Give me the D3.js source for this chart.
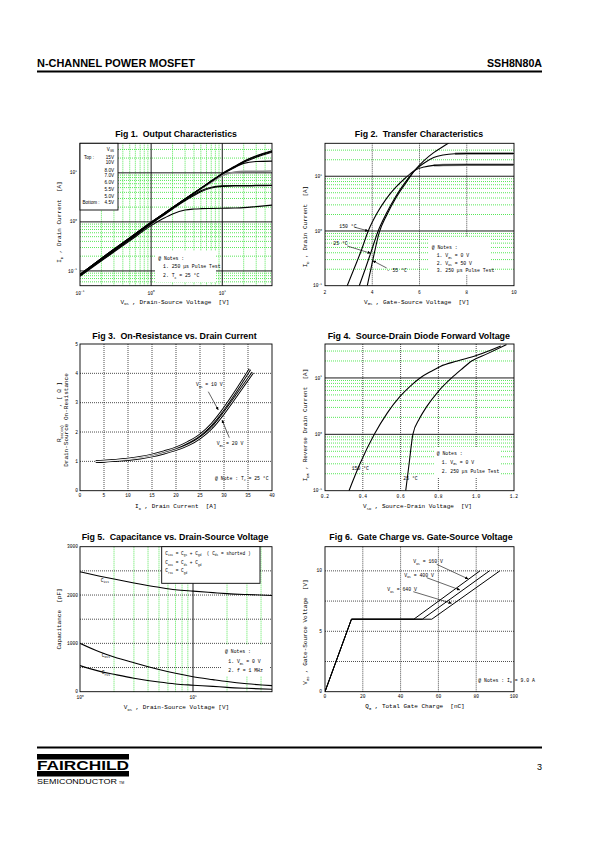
<!DOCTYPE html>
<html><head><meta charset="utf-8">
<script src="https://cdn.jsdelivr.net/npm/d3@7"></script>
<style>body{margin:0;background:#fff}svg{display:block}</style>
</head><body>
<script>
// ================= DATA =================
// Fig 1 Output characteristics (VDS [V] vs ID [A])
const fig1Vds = [0.1,0.2,0.5,1,1.5,2,3,4,5,7,10,15,20,30,50];
const fig1Legend = ["15V","10V","8.0V","7.0V","6.0V","5.5V","5.0V","4.5V"];
const fig1Id15 = [0.085,0.18,0.47,0.98,1.47,1.96,2.93,3.9,4.85,6.8,9.7,13.6,17.2,22.2,28.2];
const fig1Id10 = [0.085,0.18,0.47,0.98,1.47,1.96,2.93,3.9,4.85,6.8,9.6,13.4,16.9,21.6,27.4];
const fig1Id80 = [0.085,0.18,0.47,0.97,1.46,1.95,2.92,3.88,4.82,6.75,9.5,13.1,16.4,20.8,26.4];
const fig1Id70 = [0.084,0.175,0.46,0.96,1.45,1.94,2.9,3.86,4.8,6.7,9.4,12.9,15.6,17.0,17.3];
const fig1Id60 = [0.083,0.17,0.45,0.95,1.43,1.92,2.87,3.8,4.7,6.4,8.8,10.4,10.8,10.8,10.9];
const fig1Id55 = [0.082,0.17,0.44,0.93,1.4,1.88,2.8,3.6,4.3,5.1,5.45,5.5,5.5,5.55,5.6];
const fig1Id50 = [0.081,0.165,0.43,0.91,1.37,1.83,2.7,3.45,4.1,4.9,5.3,5.4,5.4,5.45,5.5];
const fig1Id45 = [0.078,0.16,0.41,0.84,1.18,1.45,1.75,1.83,1.86,1.88,1.9,1.92,1.95,2.05,2.2];
const fig1XTicks = [0.1,1,10];
const fig1YTicks = [0.1,1,10];

// Fig 2 Transfer characteristics (VGS [V] vs ID [A])
const fig2Vgs150 = [2.94,3.2,3.5,3.83,4.2,4.6,5.0,5.4,5.8,6.2,6.6,7.0,8.0,10];
const fig2Id150  = [0.1,0.19,0.4,1.0,2.1,3.9,6.3,9.3,12.8,14.8,15.8,16.1,16.2,16.2];
const fig2Vgs25  = [3.45,3.7,3.93,4.25,4.6,5.0,5.4,5.8,6.2,6.6,7.0,7.5,8.0,10];
const fig2Id25   = [0.1,0.2,0.39,1.0,2.1,4.3,7.8,12.8,17.5,22,24.5,25.8,26,26];
const fig2VgsM55 = [3.79,4.02,4.3,4.6,5.0,5.4,5.8,6.2,6.6,7.0,7.25];
const fig2IdM55  = [0.1,0.29,0.95,1.9,4.0,7.3,12.8,19.5,27,35,41];
const fig2XTicks = [2,4,6,8,10];
const fig2YTicks = [0.1,1,10];

// Fig 3 On-resistance vs drain current (ID [A] vs RDS(on) [ohm])
const fig3Id10 = [3.3,5,7.5,10,12.5,15,17.5,20,22.5,25,27.5,30,32.5,35.4];
const fig3R10  = [1.0,1.01,1.04,1.08,1.14,1.22,1.33,1.46,1.65,1.9,2.28,2.8,3.4,4.14];
const fig3Id20 = [3.3,5,7.5,10,12.5,15,17.5,20,22.5,25,27.5,30,32.5,36];
const fig3R20  = [0.99,1.0,1.03,1.06,1.11,1.18,1.28,1.4,1.56,1.8,2.15,2.65,3.22,4.03];
const fig3XTicks = [0,5,10,15,20,25,30,35,40];
const fig3YTicks = [0,1,2,3,4,5];

// Fig 4 Source-drain diode forward voltage (VSD [V] vs IDR [A])
const fig4Vsd150 = [0.327,0.385,0.461,0.53,0.597,0.65,0.703,0.76,0.81,0.9,1.0,1.13];
const fig4Idr150 = [0.1,0.3,1.0,2.4,4.7,7.1,10,13,16,20,25,37];
const fig4Vsd25  = [0.627,0.645,0.665,0.7,0.738,0.8,0.87,0.92,0.976,1.06,1.16];
const fig4Idr25  = [0.1,0.3,1.0,1.9,3.1,5.8,10,14,20,27,39];
const fig4XTicks = [0.2,0.4,0.6,0.8,1.0,1.2];
const fig4YTicks = [0.1,1,10];

// Fig 5 Capacitance vs VDS
const fig5Vds  = [1,1.5,2,3,5,7,10,15,20,30,50];
const fig5Ciss = [2480,2390,2330,2250,2160,2110,2080,2050,2030,2010,1990];
const fig5Coss = [1000,820,720,600,460,380,310,250,210,165,125];
const fig5Crss = [540,420,360,280,200,160,135,110,90,70,50];
const fig5XTicks = [1,10];
const fig5YTicks = [0,1000,2000,3000];

// Fig 6 Gate charge (QG [nC] vs VGS [V])
const fig6Q160 = [0,14,47,82];
const fig6Q400 = [0,14,51.5,87];
const fig6Q640 = [0,14,56.5,92.5];
const fig6Vgs  = [0,6,6,10];
const fig6XTicks = [0,20,40,60,80,100];
const fig6YTicks = [0,5,10];

// ================= DRAWING =================
const MONO = "'Liberation Mono','DejaVu Sans Mono',monospace";
const SANS = "'Liberation Sans',Arial,'DejaVu Sans',sans-serif";
const GREEN = "#2fe22f";
const svg = d3.select("body").append("svg").attr("width",595).attr("height",842);
const defs = svg.append("defs");
defs.append("marker").attr("id","arr").attr("viewBox","0 0 10 10").attr("refX",10).attr("refY",5)
  .attr("markerWidth",3.2).attr("markerHeight",3.2).attr("markerUnits","userSpaceOnUse").attr("orient","auto")
  .append("path").attr("d","M0,0L10,5L0,10z").attr("fill","#000");

function rich(t,str,fs){
  const parts = str.split(/(_\{[^}]*\}|\^\{[^}]*\})/);
  let cur = 0;
  parts.forEach(p=>{
    if(p==="") return;
    let target=0,size=fs,s=p;
    if(p.startsWith("_{")){target=fs*0.32;size=fs*0.62;s=p.slice(2,-1);}
    else if(p.startsWith("^{")){target=-fs*0.45;size=fs*0.62;s=p.slice(2,-1);}
    t.append("tspan").attr("dy",target-cur).attr("font-size",size).text(s);
    cur=target;
  });
}
function txt(g,x,y,str,o={}){
  const fs=o.fs||5;
  const t=g.append("text").attr("font-family",o.ff||MONO).attr("font-size",fs)
    .attr("text-anchor",o.anchor||"start").attr("fill","#000").style("white-space","pre");
  if(o.rot){t.attr("transform",`translate(${x},${y}) rotate(-90)`);} else {t.attr("x",x).attr("y",y);}
  if(o.bold) t.attr("font-weight","bold");
  if(o.len) t.attr("textLength",o.len).attr("lengthAdjust","spacingAndGlyphs");
  rich(t,str,fs);
  return t;
}
function logMinors(lo,hi){const out=[];for(let k=Math.floor(Math.log10(lo))-1;k<=Math.ceil(Math.log10(hi));k++){for(let m=2;m<=9;m++){const v=m*Math.pow(10,k);if(v>lo*1.001&&v<hi*0.999)out.push(v);}}return out;}
function logMajors(lo,hi){const out=[];for(let k=Math.floor(Math.log10(lo))-1;k<=Math.ceil(Math.log10(hi));k++){const v=Math.pow(10,k);if(v>lo*1.001&&v<hi*0.999)out.push(v);}return out;}
function styleLine(sel,kind){
  if(kind==="green") sel.attr("stroke",GREEN).attr("stroke-width",0.8).attr("stroke-dasharray","1,1");
  else if(kind==="dot") sel.attr("stroke","#000").attr("stroke-width",0.7).attr("stroke-dasharray","1,1");
  else sel.attr("stroke","#000").attr("stroke-width",0.9);
}
function vgrid(g,x,vals,b,kind){g.append("g").selectAll("line").data(vals).join("line")
  .attr("x1",d=>x(d)).attr("x2",d=>x(d)).attr("y1",b.y).attr("y2",b.y+b.h).call(styleLine,kind);}
function hgrid(g,y,vals,b,kind){g.append("g").selectAll("line").data(vals).join("line")
  .attr("y1",d=>y(d)).attr("y2",d=>y(d)).attr("x1",b.x).attr("x2",b.x+b.w).call(styleLine,kind);}
let clipN=0;
function clip(b){const id="c"+(clipN++);defs.append("clipPath").attr("id",id).append("rect").attr("x",b.x).attr("y",b.y).attr("width",b.w).attr("height",b.h);return `url(#${id})`;}
function frame(g,b){g.append("rect").attr("x",b.x).attr("y",b.y).attr("width",b.w).attr("height",b.h).attr("fill","none").attr("stroke","#000").attr("stroke-width",0.9);}
function curve(g,x,y,xs,ys,o={}){
  const pts=xs.map((v,i)=>[v,ys[i]]);
  return g.append("path").datum(pts).attr("fill","none").attr("stroke",o.color||"#000")
    .attr("stroke-width",o.w||1.1).attr("stroke-linejoin","round")
    .attr("d",d3.line().x(d=>x(d[0])).y(d=>y(d[1])).curve(o.linear?d3.curveLinear:d3.curveMonotoneX));
}
function whiteRect(g,x,y,w,h,border){g.append("rect").attr("x",x).attr("y",y).attr("width",w).attr("height",h).attr("fill","#fff").attr("stroke",border?"#000":"none").attr("stroke-width",0.9);}
function arrow(g,x1,y1,x2,y2){g.append("line").attr("x1",x1).attr("y1",y1).attr("x2",x2).attr("y2",y2).attr("stroke","#000").attr("stroke-width",0.6).attr("marker-end","url(#arr)");}
function pow10(v){const e=Math.round(Math.log10(v));return "10^{"+(e<0?"-"+(-e):e)+"}";}

// ---------- Header / footer ----------
txt(svg,37,66.5,"N-CHANNEL POWER MOSFET",{ff:SANS,fs:10.5,bold:true,len:158});
txt(svg,542,66.5,"SSH8N80A",{ff:SANS,fs:10.5,bold:true,anchor:"end",len:55});
svg.append("rect").attr("x",37).attr("y",70.5).attr("width",505).attr("height",2).attr("fill","#000");
svg.append("rect").attr("x",37).attr("y",746.5).attr("width",505).attr("height",2).attr("fill","#000");
svg.append("rect").attr("x",37).attr("y",754).attr("width",92).attr("height",5.5).attr("fill","#000");
txt(svg,37,769.5,"FAIRCHILD",{ff:SANS,fs:12,bold:true,len:92});
svg.append("rect").attr("x",37).attr("y",771).attr("width",92).attr("height",5.5).attr("fill","#000");
txt(svg,37,784,"SEMICONDUCTOR",{ff:SANS,fs:7,len:80});
txt(svg,119,784,"TM",{ff:SANS,fs:3.5});
txt(svg,542,770,"3",{ff:SANS,fs:9,anchor:"end"});

// ---------- Titles ----------
[["Fig 1.  Output Characteristics",176,136.5,121.7],
 ["Fig 2.  Transfer Characteristics",419,136.5,128.3],
 ["Fig 3.  On-Resistance vs. Drain Current",174.5,338.5,164.3],
 ["Fig 4.  Source-Drain Diode Forward Voltage",418.8,338.5,182.3],
 ["Fig 5.  Capacitance vs. Drain-Source Voltage",175,539.8,186.7],
 ["Fig 6.  Gate Charge vs. Gate-Source Voltage",421,539.8,183.3]].forEach(([s,x,y,l])=>
  txt(svg,x,y,s,{ff:SANS,fs:9,bold:true,anchor:"middle",len:l}));

const TFS=4.6, LFS=6, NFS=4.8;

// ---------- Fig 1 ----------
{
  const b={x:80,y:143.3,w:192,h:142.4};
  const g=svg.append("g");
  const x=d3.scaleLog().domain([0.1,50]).range([b.x,b.x+b.w]);
  const y=d3.scaleLog().domain([0.05,40]).range([b.y+b.h,b.y]);
  vgrid(g,x,logMinors(0.1,50),b,"green"); hgrid(g,y,logMinors(0.05,40),b,"green");
  vgrid(g,x,logMajors(0.1,50),b,"solid"); hgrid(g,y,logMajors(0.05,40),b,"solid");
  frame(g,b);
  const cg=g.append("g").attr("clip-path",clip(b));
  curve(cg,x,y,fig1Vds,fig1Id60,{color:"#888",w:1.6});
  [fig1Id45,fig1Id50,fig1Id55,fig1Id70,fig1Id80,fig1Id10,fig1Id15].forEach(a=>curve(cg,x,y,fig1Vds,a,{w:1.1}));
  // legend
  whiteRect(g,b.x,b.y,38,66.7,true);
  txt(g,114,151,"V_{GS}",{fs:4.6,ff:SANS,anchor:"end"});
  const ly=[159,164.4,172.4,176.9,184.4,191,197.7,203.7];
  fig1Legend.forEach((s,i)=>txt(g,114,ly[i],s,{fs:4.6,ff:SANS,anchor:"end"}));
  txt(g,84,159,"Top :",{fs:4.6,ff:SANS});
  txt(g,82.5,203.7,"Bottom :",{fs:4.6,ff:SANS});
  // notes
  whiteRect(g,155,251,61,31,false);
  txt(g,158.3,260,"@ Notes :",{fs:NFS});
  txt(g,163,268.4,"1. 250 μs Pulse Test",{fs:NFS});
  txt(g,163,277.4,"2. T_{C} = 25 °C",{fs:NFS});
  fig1XTicks.forEach(v=>txt(g,x(v),294.5,pow10(v),{fs:TFS,anchor:"middle"}));
  fig1YTicks.forEach(v=>txt(g,77,y(v)+1.6,pow10(v),{fs:TFS,anchor:"end"}));
  txt(g,175,303.5,"V_{DS} , Drain-Source Voltage  [V]",{fs:LFS,anchor:"middle"});
  txt(g,61.3,222,"I_{D} , Drain Current  [A]",{fs:LFS,anchor:"middle",rot:true});
}

// ---------- Fig 2 ----------
{
  const b={x:325,y:143.3,w:189,h:142.4};
  const g=svg.append("g");
  const x=d3.scaleLinear().domain([2,10]).range([b.x,b.x+b.w]);
  const y=d3.scaleLog().domain([0.1,40]).range([b.y+b.h,b.y]);
  hgrid(g,y,logMinors(0.1,40),b,"green");
  vgrid(g,x,[4,6,8],b,"dot");
  hgrid(g,y,logMajors(0.1,40),b,"solid");
  frame(g,b);
  const cg=g.append("g").attr("clip-path",clip(b));
  curve(cg,x,y,fig2Vgs150.slice(10),fig2Id150.slice(10),{color:"#8a8a8a",w:2.4});
  curve(cg,x,y,fig2Vgs25.slice(11),fig2Id25.slice(11),{color:"#8a8a8a",w:2.4});
  curve(cg,x,y,fig2Vgs150,fig2Id150);
  curve(cg,x,y,fig2Vgs25,fig2Id25);
  curve(cg,x,y,fig2VgsM55,fig2IdM55);
  whiteRect(g,429,237,62,38,false);
  txt(g,431.7,249.4,"@ Notes :",{fs:NFS});
  txt(g,436.7,257,"1. V_{GS} = 0 V",{fs:NFS});
  txt(g,436.7,264.5,"2. V_{DS} = 50 V",{fs:NFS});
  txt(g,436.7,272,"3. 250 μs Pulse Test",{fs:NFS});
  txt(g,339.3,227.6,"150 °C",{fs:NFS});
  arrow(g,355,227.3,368.3,231);
  txt(g,333.3,245,"25 °C",{fs:NFS});
  arrow(g,347.3,246,370.7,253.3);
  txt(g,386.7,272.4,"- 55 °C",{fs:NFS});
  arrow(g,386.7,268,372.7,260.7);
  fig2XTicks.forEach(v=>txt(g,x(v),293.5,String(v),{fs:TFS,anchor:"middle"}));
  fig2YTicks.forEach(v=>txt(g,322,y(v)+1.6,pow10(v),{fs:TFS,anchor:"end"}));
  txt(g,416.7,303.5,"V_{GS} , Gate-Source Voltage  [V]",{fs:LFS,anchor:"middle"});
  txt(g,307,226.5,"I_{D} , Drain Current  [A]",{fs:LFS,anchor:"middle",rot:true});
}

// ---------- Fig 3 ----------
{
  const b={x:80,y:344,w:192,h:146.7};
  const g=svg.append("g");
  const x=d3.scaleLinear().domain([0,40]).range([b.x,b.x+b.w]);
  const y=d3.scaleLinear().domain([0,5]).range([b.y+b.h,b.y]);
  vgrid(g,x,[5,10,15,20,25,30,35],b,"dot"); hgrid(g,y,[1,2,3,4],b,"dot");
  frame(g,b);
  const cg=g.append("g").attr("clip-path",clip(b));
  [[fig3Id10,fig3R10],[fig3Id20,fig3R20]].forEach(([a,r])=>{
    curve(cg,x,y,a,r,{w:2.6});
  });
  [[fig3Id10,fig3R10],[fig3Id20,fig3R20]].forEach(([a,r])=>{
    curve(cg,x,y,a,r,{w:0.9,color:"#fff"});
  });
  txt(g,196,386,"V_{GS} = 10 V",{fs:NFS});
  arrow(g,208.3,391.7,218.3,410);
  txt(g,216.7,445,"V_{GS} = 20 V",{fs:NFS});
  arrow(g,229.3,437.7,222,420);
  txt(g,215,479.7,"@ Note : T_{J} = 25 °C",{fs:NFS});
  fig3XTicks.forEach(v=>txt(g,x(v),497.4,String(v),{fs:TFS,anchor:"middle"}));
  fig3YTicks.forEach(v=>txt(g,78,y(v)+1.6,String(v),{fs:TFS,anchor:"end"}));
  txt(g,175.8,508.4,"I_{D} , Drain Current  [A]",{fs:LFS,anchor:"middle"});
  txt(g,61.3,412,"R_{DS(on)}     , [ Ω ]",{fs:LFS,anchor:"middle",rot:true});
  txt(g,68,420,"Drain-Source On-Resistance",{fs:LFS,anchor:"middle",rot:true});
}

// ---------- Fig 4 ----------
{
  const b={x:325,y:344,w:189,h:146.7};
  const g=svg.append("g");
  const x=d3.scaleLinear().domain([0.2,1.2]).range([b.x,b.x+b.w]);
  const y=d3.scaleLog().domain([0.1,40]).range([b.y+b.h,b.y]);
  hgrid(g,y,logMinors(0.1,40),b,"green");
  vgrid(g,x,[0.4,0.6,0.8,1.0],b,"dot");
  hgrid(g,y,logMajors(0.1,40),b,"solid");
  frame(g,b);
  const cg=g.append("g").attr("clip-path",clip(b));
  curve(cg,x,y,fig4Vsd150,fig4Idr150);
  curve(cg,x,y,fig4Vsd25,fig4Idr25);
  whiteRect(g,434,447,66,31,false);
  txt(g,436.7,455,"@ Notes :",{fs:NFS});
  txt(g,441.7,463.7,"1. V_{GS} = 0 V",{fs:NFS});
  txt(g,441.7,473.4,"2. 250 μs Pulse Test",{fs:NFS});
  txt(g,351.7,470,"150 °C",{fs:NFS});
  txt(g,403.3,480,"25 °C",{fs:NFS});
  fig4XTicks.forEach(v=>txt(g,x(v),498.4,v.toFixed(1),{fs:TFS,anchor:"middle"}));
  fig4YTicks.forEach(v=>txt(g,322,y(v)+1.6,pow10(v),{fs:TFS,anchor:"end"}));
  txt(g,417.5,508.4,"V_{SD} , Source-Drain Voltage  [V]",{fs:LFS,anchor:"middle"});
  txt(g,307,425,"I_{DR} , Reverse Drain Current  [A]",{fs:LFS,anchor:"middle",rot:true});
}

// ---------- Fig 5 ----------
{
  const b={x:80,y:546.7,w:192,h:145};
  const g=svg.append("g");
  const x=d3.scaleLog().domain([1,50]).range([b.x,b.x+b.w]);
  const y=d3.scaleLinear().domain([0,3000]).range([b.y+b.h,b.y]);
  vgrid(g,x,logMinors(1,50),b,"green");
  hgrid(g,y,[500,1000,1500,2000,2500],b,"dot");
  vgrid(g,x,logMajors(1,50),b,"solid");
  frame(g,b);
  const cg=g.append("g").attr("clip-path",clip(b));
  [fig5Ciss,fig5Coss,fig5Crss].forEach(a=>curve(cg,x,y,fig5Vds,a,{w:1.1}));
  whiteRect(g,161.7,546.7,98.3,36.6,true);
  txt(g,165.3,555,"C_{iss} = C_{gs} + C_{gd}  ( C_{ds} = shorted )",{fs:4.5});
  txt(g,165.3,564.2,"C_{oss} = C_{ds} + C_{gd}",{fs:4.5});
  txt(g,165.3,572.2,"C_{rss} = C_{gd}",{fs:4.5});
  whiteRect(g,222,645,48,31,false);
  txt(g,225,653.4,"@ Notes :",{fs:NFS});
  txt(g,228.3,663.4,"1. V_{GS} = 0 V",{fs:NFS});
  txt(g,228.3,671.7,"2. f = 1 MHz",{fs:NFS});
  txt(g,100.7,581.7,"C_{iss}",{fs:NFS});
  txt(g,101.7,656.7,"C_{oss}",{fs:NFS});
  txt(g,101.7,674,"C_{rss}",{fs:NFS});
  fig5XTicks.forEach(v=>txt(g,x(v),699,pow10(v),{fs:TFS,anchor:"middle"}));
  fig5YTicks.forEach(v=>txt(g,78,y(v)+1.6,String(v),{fs:TFS,anchor:"end"}));
  txt(g,176.5,709.4,"V_{DS} , Drain-Source Voltage [V]",{fs:LFS,anchor:"middle"});
  txt(g,61.3,619,"Capacitance  [pF]",{fs:LFS,anchor:"middle",rot:true});
}

// ---------- Fig 6 ----------
{
  const b={x:325,y:546.7,w:189,h:145};
  const g=svg.append("g");
  const x=d3.scaleLinear().domain([0,100]).range([b.x,b.x+b.w]);
  const y=d3.scaleLinear().domain([0,12]).range([b.y+b.h,b.y]);
  vgrid(g,x,[20,40,60,80],b,"dot"); hgrid(g,y,[2.5,5,7.5,10],b,"dot");
  frame(g,b);
  const cg=g.append("g").attr("clip-path",clip(b));
  [fig6Q160,fig6Q400,fig6Q640].forEach(q=>curve(cg,x,y,q,fig6Vgs,{linear:true,w:1}));
  txt(g,413.3,563.4,"V_{DS} = 160 V",{fs:NFS});
  arrow(g,436.7,564.3,468.3,579);
  txt(g,404.3,576.7,"V_{DS} = 400 V",{fs:NFS});
  arrow(g,426.7,577.7,460,590);
  txt(g,387.3,591,"V_{DS} = 640 V",{fs:NFS});
  arrow(g,413.3,591.7,451.7,603.3);
  txt(g,478.3,681.7,"@ Notes : I_{D} = 9.0 A",{fs:NFS});
  fig6XTicks.forEach(v=>txt(g,x(v),698.4,String(v),{fs:TFS,anchor:"middle"}));
  fig6YTicks.forEach(v=>txt(g,322,y(v)+1.6,String(v),{fs:TFS,anchor:"end"}));
  txt(g,415,708.4,"Q_{G} , Total Gate Charge  [nC]",{fs:LFS,anchor:"middle"});
  txt(g,307,632,"V_{GS} , Gate-Source Voltage  [V]",{fs:LFS,anchor:"middle",rot:true});
}
</script>
</body></html>
